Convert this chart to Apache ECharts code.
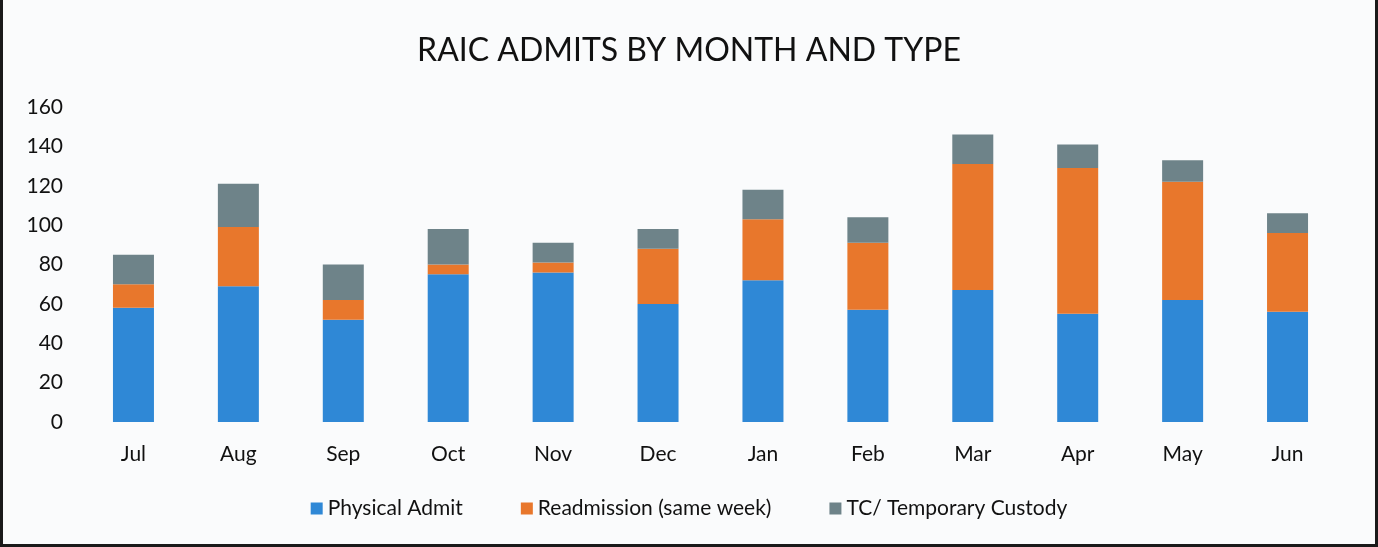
<!DOCTYPE html>
<html>
<head>
<meta charset="utf-8">
<script src="https://cdn.jsdelivr.net/npm/echarts@6/dist/echarts.min.js"></script>
<style>
  html, body { margin: 0; padding: 0; background: #fafbfc; }
  #main { width: 1372px; height: 544px; border-left: 3px solid #1a1a1a; border-right: 3px solid #1a1a1a; border-bottom: 3px solid #1a1a1a; box-sizing: content-box; }
</style>
</head>
<body>
<div id="main"></div>
<script>
// months (fiscal year Jul..Jun)
var months = ['Jul','Aug','Sep','Oct','Nov','Dec','Jan','Feb','Mar','Apr','May','Jun'];
var physicalAdmit = [58, 69, 52, 75, 76, 60, 72, 57, 67, 55, 62, 56];
var readmission   = [12, 30, 10,  5,  5, 28, 31, 34, 64, 74, 60, 40];
var tempCustody   = [15, 22, 18, 18, 10, 10, 15, 13, 15, 12, 11, 10];
var yTicks = [0, 20, 40, 60, 80, 100, 120, 140, 160];

var fontName = 'Lato, "Open Sans", sans-serif';

var myChart = echarts.init(document.getElementById('main'));
var option = {
	backgroundColor: '#fafbfc',
	animation: false,
	title: {
		text: 'RAIC ADMITS BY MONTH AND TYPE',
		left: 'center',
		top: 30,
		textStyle: { fontFamily: fontName, fontSize: 32, fontWeight: 'normal', color: '#111' }
	},
	legend: {
		bottom: 20,
		left: 'center',
		itemWidth: 12,
		itemHeight: 12,
		itemGap: 58,
		icon: 'rect',
		textStyle: { fontFamily: fontName, fontSize: 21, color: '#111' },
		data: ['Physical Admit', 'Readmission (same week)', 'TC/ Temporary Custody']
	},
	grid: { left: 78, right: 35, top: 107, bottom: 122 },
	xAxis: {
		type: 'category',
		data: months,
		axisLine: { show: false },
		axisTick: { show: false },
		axisLabel: { fontFamily: fontName, fontSize: 21, color: '#111', margin: 22 }
	},
	yAxis: {
		type: 'value',
		min: yTicks[0],
		max: yTicks[yTicks.length - 1],
		interval: 20,
		splitLine: { show: false },
		axisLine: { show: false },
		axisTick: { show: false },
		axisLabel: { fontFamily: fontName, fontSize: 21, color: '#111', margin: 18 }
	},
	series: [
		{
			name: 'Physical Admit', type: 'bar', stack: 'all', barWidth: 41,
			itemStyle: { color: '#2f88d6' },
			data: physicalAdmit
		},
		{
			name: 'Readmission (same week)', type: 'bar', stack: 'all', barWidth: 41,
			itemStyle: { color: '#e8772c' },
			data: readmission
		},
		{
			name: 'TC/ Temporary Custody', type: 'bar', stack: 'all', barWidth: 41,
			itemStyle: { color: '#6e8389' },
			data: tempCustody
		}
	]
};
myChart.setOption(option);
</script>
</body>
</html>
